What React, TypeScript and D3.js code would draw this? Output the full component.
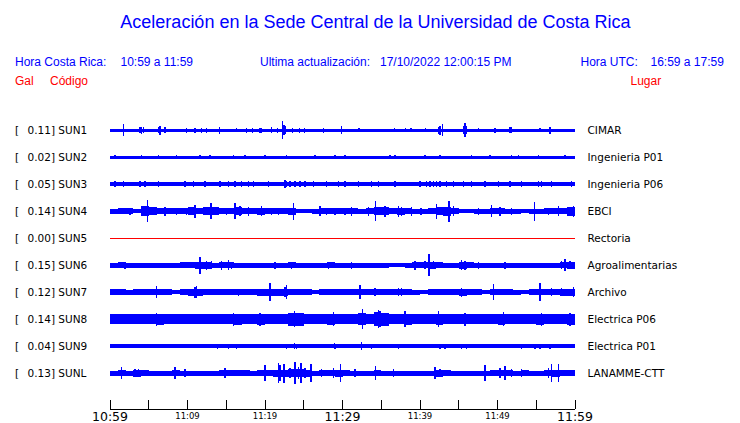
import React from "react";
import * as d3 from "d3";

// ---------- DATA ----------
const codes = ["SUN1", "SUN2", "SUN3", "SUN4", "SUN5", "SUN6", "SUN7", "SUN8", "SUN9", "SUNL"];
const places = ["CIMAR", "Ingenieria P01", "Ingenieria P06", "EBCI", "Rectoria", "Agroalimentarias", "Archivo", "Electrica P06", "Electrica P01", "LANAMME-CTT"];
const peaks = ["0.11", "0.02", "0.05", "0.14", "0.00", "0.15", "0.12", "0.14", "0.04", "0.13"];

const bigTicks = ["10:59", "11:29", "11:59"];
const smallTicks = ["11:09", "11:19", "11:39", "11:49"];

// constant noise level for quiet stations (half amplitude)
const baseLevel = [1.5, 1.5, 2.3, 0, 0, 0, 0, 0, 1.7, 0];

// per-minute noise envelopes (half amplitude), minutes 0..59
const sun4Env = [2.5, 3, 3, 2, 5, 4, 3, 3, 3, 3, 4, 3, 4, 4, 3, 3, 4, 3, 3, 3.5, 3, 3, 3, 3.5, 2, 2, 2.5, 3, 3, 3, 3, 3, 2.5, 3, 4, 4, 3, 3.5, 3, 2.5, 2.5, 3, 4, 4.5, 3, 2, 2, 2.5, 2.5, 3, 3, 2.5, 2.5, 2, 2.5, 2.5, 3, 3, 3, 4.5];
const sun6Env = [2.5, 3, 2.5, 2.5, 2.5, 2.5, 2.5, 2.5, 2.5, 3, 3, 3.5, 3.5, 2.5, 3, 3, 2.5, 2.5, 2.5, 2.5, 2.5, 2.5, 2.5, 3, 2.5, 2.5, 2.5, 2.5, 3, 2.5, 2.5, 2.5, 2.5, 2.5, 2.5, 2.5, 2, 2, 2.5, 3, 3, 3.5, 3, 2.5, 2.5, 3.5, 3, 2.5, 2.5, 2.5, 2.5, 2.5, 2.5, 2.5, 2.5, 2.5, 2.5, 2.5, 3, 3.5];
const sun7Env = [3, 3, 2.5, 3, 3, 3, 3, 3, 1.8, 3, 3.5, 3.5, 3, 3, 3, 3, 3, 3, 3, 3.5, 3.5, 3.5, 3.5, 3, 3, 3, 1.8, 3, 3, 3, 3, 3, 3, 3, 3, 3, 3, 3, 3, 2.5, 1.8, 3, 3, 3, 3, 3.5, 3, 3, 1.8, 3, 3, 3, 2.5, 1.8, 3, 3, 3, 3, 3.5, 3.5];
const sun8Env = [5, 5, 5, 5, 5, 5, 5.5, 5, 5, 5, 5, 5, 5, 5, 5, 5, 5.5, 5, 5, 5.5, 5, 5, 5, 6.5, 6.5, 5, 5, 5, 5.5, 5, 5, 5, 6, 5, 7, 6.5, 5, 5, 5.5, 5, 5, 5, 5.5, 5, 5, 5, 5, 5, 5, 5, 5.5, 5, 5, 5, 5, 5.5, 5, 5, 5, 5.5];
const sunlEnv = [2.5, 3, 2.5, 3.5, 3, 2.5, 2.5, 2.5, 3, 2.5, 2.5, 2.5, 2.5, 2.5, 3, 3, 3, 3, 2.5, 3, 3, 3.5, 3.5, 4, 4, 3.5, 2.5, 3, 3, 3.5, 3, 2.5, 2.5, 2.5, 3, 2.5, 2.5, 2.5, 2.5, 2.5, 2.5, 2.5, 3.5, 3, 2.5, 2.5, 2.5, 2.5, 2.5, 3, 3, 3, 2.5, 3, 2.5, 2.5, 3, 3.5, 3, 3];

// spikes: [minute after 10:59, half amplitude]
const sun1Spikes = [[1.72, 6], [3.87, 3], [4.09, 3.5], [4.3, 3], [6.24, 3], [6.45, 4.5], [7.1, 3], [9.89, 2.5], [10.97, 2.5], [11.83, 2.5], [12.47, 2.5], [14.11, 3.5], [16.34, 2], [17.63, 2.5], [18.37, 2.5], [19.35, 2.5], [19.57, 2.5], [20.86, 3], [21.63, 2.5], [22.28, 9], [22.45, 5], [22.58, 4], [23.57, 2.5], [24.43, 2.5], [25.08, 2.5], [27.53, 2.5], [29.89, 4], [32.04, 2], [32.2, 2], [36.69, 2], [38.15, 2], [38.84, 2], [40.73, 2], [42.37, 3.5], [42.58, 4.5], [42.88, 6], [45.59, 4], [45.81, 7], [46.02, 4], [47.53, 2], [49.68, 2.5], [51.61, 3], [51.83, 3], [55.48, 2], [56.77, 3.5]];
const sun2Spikes = [[0.65, 2.2], [4.09, 2.2], [6.24, 2.2], [8.6, 2.2], [11.61, 2.2], [12.9, 2.2], [15.91, 2.2], [17.42, 2.2], [20.0, 2.2], [22.8, 2.2], [26.45, 2.2], [29.03, 2.2], [30.32, 2.2], [36.13, 2.2], [36.77, 2.2], [40.65, 2.2], [42.58, 2.2], [46.67, 2.2], [49.03, 2.2], [51.83, 2.2], [52.69, 2.2], [55.27, 2.2], [58.71, 2.2]];
const sun3Spikes = [[0.65, 3.3], [1.72, 3.3], [3.87, 3.3], [4.52, 3.3], [6.24, 3.3], [9.68, 3.3], [10.75, 3.3], [12.26, 3.3], [14.19, 3.3], [15.27, 3.3], [16.13, 3.3], [16.99, 3.3], [17.85, 3.3], [18.49, 3.3], [20.43, 3.3], [22.58, 4], [22.8, 3.3], [23.23, 3.3], [23.87, 3.3], [24.52, 3.3], [25.16, 3.3], [26.24, 3.3], [27.96, 3.3], [29.46, 3.3], [30.32, 3.3], [32.04, 3.3], [33.76, 3.3], [34.62, 3.3], [36.77, 3.3], [40.0, 3.3], [40.86, 3.3], [41.29, 3.3], [41.72, 3.3], [42.15, 3.3], [42.58, 3.3], [43.44, 3.3], [44.3, 3.3], [45.59, 3.3], [46.67, 3.3], [48.39, 3.3], [50.11, 3.3], [51.61, 3.3], [53.12, 3.3], [55.27, 3.3], [55.7, 3.3], [56.99, 3.3], [59.57, 3.3]];
const sun4Spikes = [[2.58, 3.5], [4.82, 11], [7.1, 4.5], [8.6, 3.5], [9.89, 3.5], [10.97, 6.5], [13.03, 8], [15.05, 3.5], [16.13, 8], [16.77, 5], [17.85, 4.5], [19.57, 5], [20.86, 3.5], [21.72, 3.5], [23.66, 8.5], [27.1, 5], [27.96, 3.5], [29.03, 3.5], [30.32, 3.5], [31.18, 4.5], [33.33, 4.5], [34.28, 10], [35.48, 5.5], [37.2, 5.5], [37.63, 4.5], [38.92, 4.5], [40.13, 3.5], [42.15, 7.5], [43.74, 10.5], [44.3, 5], [47.53, 3.5], [49.25, 6], [50.32, 4.5], [51.83, 3.5], [54.75, 9.5], [56.56, 3.5], [57.85, 5], [59.78, 5.5]];
const sun6Spikes = [[1.94, 3.5], [11.61, 8.5], [12.47, 4.5], [13.12, 4], [14.41, 4.5], [15.27, 5], [15.7, 3.5], [21.29, 3.5], [23.44, 3.5], [28.17, 3.5], [31.18, 3.5], [39.35, 4.5], [40.65, 4], [41.16, 11], [41.72, 4], [45.38, 5], [45.81, 4.5], [47.53, 3.5], [50.97, 3.5], [58.28, 4], [58.71, 6], [59.35, 4]];
const sun7Spikes = [[6.02, 6], [10.97, 5.5], [11.18, 6], [16.56, 3.5], [20.65, 9], [22.58, 5], [22.8, 7], [32.26, 7], [34.19, 4], [37.2, 4], [37.63, 4], [45.38, 4.5], [49.46, 8], [55.48, 9], [56.99, 4], [58.28, 4], [59.78, 5]];
const sun8Spikes = [[6.02, 6.5], [15.91, 6.5], [19.35, 6.5], [23.78, 8], [28.82, 7], [32.56, 10], [34.62, 9], [34.84, 8], [38.06, 8], [42.37, 8], [45.81, 6.5], [50.75, 7], [55.7, 6.5], [59.35, 6.5]];
const sun9Spikes = [[13.85, 2.5], [15.27, 2.5], [16.34, 2.5], [18.58, 2.3], [22.8, 2.5], [23.78, 3], [24.09, 2.5], [28.95, 3], [29.03, 2.5], [32.47, 4], [33.76, 2.5], [37.2, 2.5], [42.58, 2.5], [43.23, 2.5], [45.38, 2.5], [46.02, 2.5], [48.17, 2.3], [50.32, 2.3], [53.12, 2.5], [54.84, 2.5], [55.48, 2.5], [56.77, 2.5]];
const sunlSpikes = [[1.5, 6], [3.23, 4], [3.66, 4], [8.39, 6], [9.68, 4], [14.84, 5], [20.0, 8], [21.72, 10], [21.94, 8], [22.45, 9.5], [23.23, 5], [23.87, 11], [24.3, 6], [24.65, 10], [25.16, 5], [25.94, 9], [27.31, 4], [28.82, 5], [29.76, 9], [31.61, 4], [34.28, 7], [36.56, 4], [41.94, 6], [42.58, 4], [48.39, 8], [50.32, 5], [50.97, 7], [51.83, 4], [53.12, 4], [56.56, 5], [56.99, 9], [57.85, 9]];

const envelopes: (number[] | null)[] = [null, null, null, sun4Env, null, sun6Env, sun7Env, sun8Env, null, sunlEnv];
const spikes: number[][][] = [sun1Spikes, sun2Spikes, sun3Spikes, sun4Spikes, [], sun6Spikes, sun7Spikes, sun8Spikes, sun9Spikes, sunlSpikes];

// ---------- LAYOUT ----------
const W = 740;
const H = 423;
const BLUE = "#0000ff";
const RED = "#ff0000";
const HEAD = "'Liberation Sans', Arial, sans-serif";
const MONO = "'DejaVu Sans', sans-serif";

const x = d3.scaleLinear().domain([0, 60]).range([110, 575]);
const y = d3.scalePoint<string>().domain(codes).range([130, 373]);
const amp = d3.scaleLinear().domain([0, 10]).range([0, 10]);

export default function App() {
  const minutes = d3.range(0, 61);
  const tickVals = d3.range(0, 61, 5);

  return (
    <svg width={W} height={H} style={{ position: "absolute", left: 0, top: 0, background: "#fff" }}>
      <text x={375.5} y={28} textAnchor="middle" fill={BLUE} fontFamily={HEAD} fontSize={18}>
        Aceleración en la Sede Central de la Universidad de Costa Rica
      </text>

      <g fontFamily={HEAD} fontSize={12} fill={BLUE}>
        <text x={15} y={65.5}>Hora Costa Rica:</text>
        <text x={120.5} y={65.5}>10:59 a 11:59</text>
        <text x={260} y={65.5}>Ultima actualización:</text>
        <text x={380} y={65.5}>17/10/2022 12:00:15 PM</text>
        <text x={580.5} y={65.5}>Hora UTC:</text>
        <text x={650.5} y={65.5}>16:59 a 17:59</text>
      </g>
      <g fontFamily={HEAD} fontSize={12} fill={RED}>
        <text x={15} y={85}>Gal</text>
        <text x={50} y={85}>Código</text>
        <text x={630.5} y={85}>Lugar</text>
      </g>

      {codes.map((c, i) => {
        const cy = y(c) as number;
        const env = envelopes[i];
        const isFlat = c === "SUN5";
        let areaPath: string | null = null;
        if (env) {
          const pts = minutes.map((m) => ({ m, a: env[Math.min(m, env.length - 1)] }));
          areaPath = d3
            .area<{ m: number; a: number }>()
            .x((d) => x(d.m))
            .y0((d) => cy + amp(d.a))
            .y1((d) => cy - amp(d.a))
            .curve(d3.curveStepAfter)(pts);
        } else if (!isFlat) {
          const b = baseLevel[i];
          areaPath = d3
            .area<number>()
            .x((d) => x(d))
            .y0(cy + amp(b))
            .y1(cy - amp(b))([0, 60]);
        }
        return (
          <g key={c}>
            <text x={15} y={cy + 4} fontFamily={MONO} fontSize={10.5} fill="#000">[</text>
            <text x={27.5} y={cy + 4} fontFamily={MONO} fontSize={10.5} fill="#000">{peaks[i]}] {c}</text>
            <text x={587.5} y={cy + 4} fontFamily={MONO} fontSize={10.5} fill="#000">{places[i]}</text>
            {isFlat ? (
              <line x1={x(0)} x2={x(60)} y1={cy + 0.5} y2={cy + 0.5} stroke={RED} strokeWidth={1} shapeRendering="crispEdges" />
            ) : (
              <g shapeRendering="crispEdges">
                {areaPath && <path d={areaPath} fill={BLUE} />}
                {spikes[i].map((s, k) => (
                  <line key={k} x1={x(s[0])} x2={x(s[0])} y1={cy - amp(s[1])} y2={cy + amp(s[1])} stroke={BLUE} strokeWidth={1.4} />
                ))}
              </g>
            )}
          </g>
        );
      })}

      <g stroke="#000" strokeWidth={1} shapeRendering="crispEdges">
        <line x1={x(0)} x2={x(60)} y1={409} y2={409} />
        {tickVals.map((t) => (
          <line key={t} x1={x(t)} x2={x(t)} y1={400} y2={409} />
        ))}
      </g>
      <g fontFamily={MONO} fill="#000" textAnchor="middle">
        {[0, 30, 60].map((t, i) => (
          <text key={t} x={x(t)} y={421} fontSize={12.5}>{bigTicks[i]}</text>
        ))}
        {[10, 20, 40, 50].map((t, i) => (
          <text key={t} x={x(t)} y={418.5} fontSize={8.5}>{smallTicks[i]}</text>
        ))}
      </g>
    </svg>
  );
}
